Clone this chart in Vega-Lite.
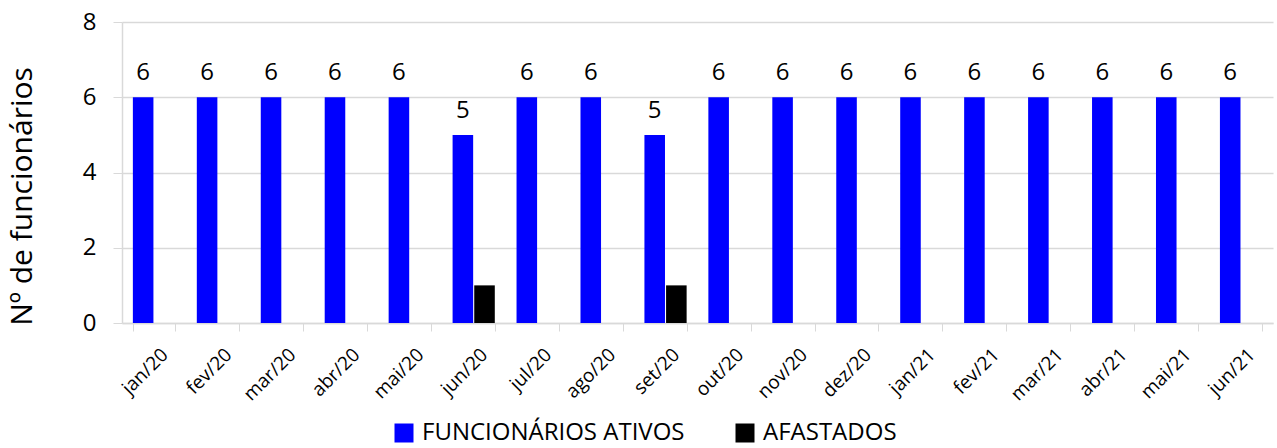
{
  "$schema": "https://vega.github.io/schema/vega-lite/v6.json",
  "width": 1151,
  "height": 301,
  "autosize": {"type": "none"},
  "padding": {"left": 122, "top": 22, "right": 4, "bottom": 125},
  "background": "white",
  "config": {"font": "Open Sans", "view": {"stroke": null}},
  "data": {
    "values": [
      {"mes": "jan/20", "serie": "FUNCIONÁRIOS ATIVOS", "valor": 6},
      {"mes": "fev/20", "serie": "FUNCIONÁRIOS ATIVOS", "valor": 6},
      {"mes": "mar/20", "serie": "FUNCIONÁRIOS ATIVOS", "valor": 6},
      {"mes": "abr/20", "serie": "FUNCIONÁRIOS ATIVOS", "valor": 6},
      {"mes": "mai/20", "serie": "FUNCIONÁRIOS ATIVOS", "valor": 6},
      {"mes": "jun/20", "serie": "FUNCIONÁRIOS ATIVOS", "valor": 5},
      {"mes": "jun/20", "serie": "AFASTADOS", "valor": 1},
      {"mes": "jul/20", "serie": "FUNCIONÁRIOS ATIVOS", "valor": 6},
      {"mes": "ago/20", "serie": "FUNCIONÁRIOS ATIVOS", "valor": 6},
      {"mes": "set/20", "serie": "FUNCIONÁRIOS ATIVOS", "valor": 5},
      {"mes": "set/20", "serie": "AFASTADOS", "valor": 1},
      {"mes": "out/20", "serie": "FUNCIONÁRIOS ATIVOS", "valor": 6},
      {"mes": "nov/20", "serie": "FUNCIONÁRIOS ATIVOS", "valor": 6},
      {"mes": "dez/20", "serie": "FUNCIONÁRIOS ATIVOS", "valor": 6},
      {"mes": "jan/21", "serie": "FUNCIONÁRIOS ATIVOS", "valor": 6},
      {"mes": "fev/21", "serie": "FUNCIONÁRIOS ATIVOS", "valor": 6},
      {"mes": "mar/21", "serie": "FUNCIONÁRIOS ATIVOS", "valor": 6},
      {"mes": "abr/21", "serie": "FUNCIONÁRIOS ATIVOS", "valor": 6},
      {"mes": "mai/21", "serie": "FUNCIONÁRIOS ATIVOS", "valor": 6},
      {"mes": "jun/21", "serie": "FUNCIONÁRIOS ATIVOS", "valor": 6}
    ]
  },
  "encoding": {
    "x": {
      "field": "mes",
      "type": "nominal",
      "sort": null,
      "scale": {"paddingInner": 0.34, "paddingOuter": 0.17},
      "axis": {
        "title": null,
        "labelAngle": -45,
        "labelAlign": "right",
        "labelBaseline": "top",
        "labelFontSize": 19,
        "labelColor": "#000000",
        "labelPadding": 14,
        "labelOffset": 4,
        "labelLimit": 0,
        "tickBand": "extent",
        "tickSize": 8,
        "tickColor": "#d9d9d9",
        "domainColor": "#d9d9d9",
        "domainWidth": 1.5,
        "grid": false
      }
    },
    "xOffset": {
      "field": "serie",
      "type": "nominal",
      "scale": {"domain": ["FUNCIONÁRIOS ATIVOS", "AFASTADOS"], "paddingInner": 0.05}
    },
    "y": {
      "field": "valor",
      "type": "quantitative",
      "scale": {"domain": [0, 8], "nice": false},
      "axis": {
        "values": [0, 2, 4, 6, 8],
        "title": "Nº de funcionários",
        "titleFontSize": 30,
        "titleFontWeight": "normal",
        "titleColor": "#000000",
        "titleAngle": 270,
        "titleAlign": "center",
        "titleBaseline": "middle",
        "titleX": -100,
        "titleY": 174,
        "labelFontSize": 24,
        "labelColor": "#000000",
        "labelPadding": 17,
        "tickSize": 9,
        "tickColor": "#d9d9d9",
        "domainColor": "#d9d9d9",
        "domainWidth": 1.5,
        "gridColor": "#d9d9d9",
        "gridWidth": 1.5
      }
    }
  },
  "layer": [
    {
      "mark": {"type": "bar"},
      "encoding": {
        "color": {
          "field": "serie",
          "type": "nominal",
          "scale": {"domain": ["FUNCIONÁRIOS ATIVOS", "AFASTADOS"], "range": ["#0000FF", "#000000"]},
          "legend": {
            "title": null,
            "orient": "none",
            "direction": "horizontal",
            "legendX": 270,
            "legendY": 399,
            "symbolType": "square",
            "symbolSize": 361,
            "symbolStrokeWidth": 0,
            "labelFontSize": 24,
            "labelLimit": 0,
            "labelColor": "#000000",
            "labelOffset": 6,
            "columnPadding": 48
          }
        }
      }
    },
    {
      "transform": [{"filter": "datum.serie == 'FUNCIONÁRIOS ATIVOS'"}],
      "mark": {"type": "text", "baseline": "bottom", "dy": -12, "fontSize": 24, "color": "#000000"},
      "encoding": {"text": {"field": "valor", "type": "quantitative"}}
    }
  ]
}
